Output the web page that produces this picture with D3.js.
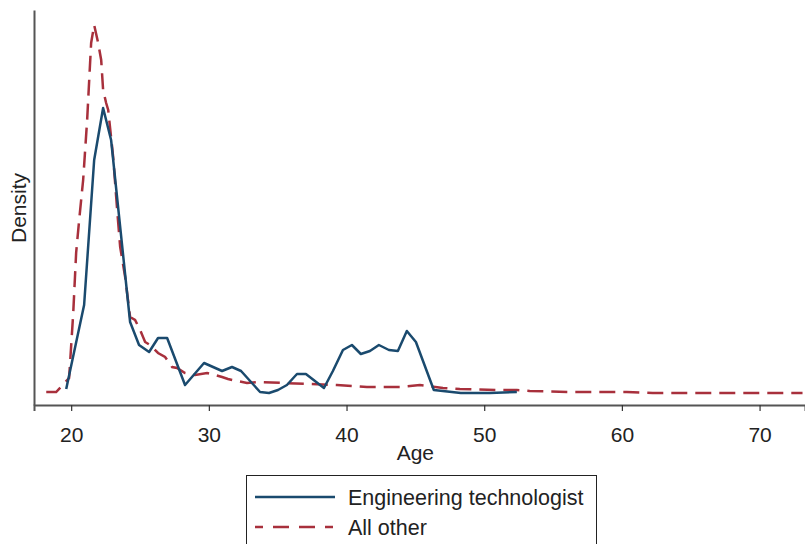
<!DOCTYPE html>
<html>
<head>
<meta charset="utf-8">
<script src="https://cdn.jsdelivr.net/npm/d3@7"></script>
<style>
  body { margin: 0; background: #fff; }
  svg { display: block; font-family: "Liberation Sans", Arial, sans-serif; }
</style>
</head>
<body>
<div id="chart"></div>
<script>
// Engineering technologist: age / density
const engAge = [19.64, 20.94, 21.67, 22.32, 22.90, 24.28, 24.93, 25.66, 26.31, 26.97,
  28.27, 29.65, 30.96, 31.68, 32.34, 33.72, 34.37, 35.02, 35.67, 36.40, 37.05,
  38.36, 39.01, 39.74, 40.39, 41.04, 41.70, 42.35, 43.08, 43.73, 44.38, 45.04,
  46.34, 48.30, 50.41, 52.37];
const engDensity = [0.002, 0.044, 0.1165, 0.1425, 0.1265, 0.0355, 0.024, 0.0205, 0.0275, 0.0275,
  0.004, 0.015, 0.011, 0.013, 0.011, 0.0005, 0, 0.0015, 0.004, 0.0095, 0.0095,
  0.0025, 0.011, 0.0215, 0.024, 0.0195, 0.021, 0.024, 0.0215, 0.021, 0.031, 0.0255,
  0.0015, 0, 0, 0.0005];

// All other: age / density
const othAge = [18.19, 18.91, 19.85, 20.15, 20.36, 20.58, 20.87, 21.16, 21.31, 21.45,
  21.67, 21.96, 22.18, 22.32, 22.54, 22.69, 23.05, 23.34, 23.56, 23.92, 24.28,
  24.64, 25.01, 25.37, 25.73, 26.31, 26.82, 27.33, 27.69, 28.27, 29.00, 29.87,
  30.45, 30.96, 31.39, 32.05, 32.77, 33.72, 35.38, 37.34, 39.30, 41.48, 43.87,
  45.33, 47.00, 48.23, 51.13, 52.37, 53.31, 56.21, 58.90, 60.35, 62.24, 73.12];
const othDensity = [0.0005, 0.0005, 0.0075, 0.04, 0.07, 0.0865, 0.1065, 0.1365, 0.1565, 0.175,
  0.184, 0.175, 0.1665, 0.1515, 0.145, 0.1415, 0.118, 0.0915, 0.073, 0.058, 0.038,
  0.0365, 0.0315, 0.0255, 0.024, 0.02, 0.018, 0.013, 0.0125, 0.01, 0.009, 0.01,
  0.009, 0.008, 0.007, 0.006, 0.005, 0.0055, 0.005, 0.0045, 0.004, 0.003, 0.003,
  0.004, 0.0025, 0.002, 0.0015, 0.0015, 0.001, 0.0005, 0.0005, 0.0005, 0, 0];

const xTicks = [20, 30, 40, 50, 60, 70];
const seriesNames = ['Engineering technologist', 'All other'];
const colors = ['#1a4a6e', '#a8303c'];

const W = 805, H = 544;
const FS = 21;
const svg = d3.select('#chart').append('svg').attr('width', W).attr('height', H);

const x = d3.scaleLinear().domain([17.3, 73.3]).range([34, 805]);
const y = d3.scaleLinear().domain([-0.006, 0.1915]).range([405, 10]);

const line = d3.line().x(d => x(d[0])).y(d => y(d[1]));

const engPts = engAge.map((a, i) => [a, engDensity[i]]);
const othPts = othAge.map((a, i) => [a, othDensity[i]]);

// axes
const xAxis = svg.append('g').attr('transform', 'translate(0,405)')
  .call(d3.axisBottom(x).tickValues(xTicks).tickSize(6).tickPadding(16).tickFormat(d3.format('d')));
xAxis.select('.domain').attr('stroke', '#555').attr('stroke-width', 2);
xAxis.selectAll('.tick line').attr('stroke', '#333').attr('stroke-width', 1.2);
xAxis.selectAll('.tick text').attr('font-size', FS).attr('fill', '#222')
  .attr('font-family', '"Liberation Sans", Arial, sans-serif');

const yAxis = svg.append('g').attr('transform', 'translate(34,0)')
  .call(d3.axisLeft(y).tickValues([]).tickSize(0));
yAxis.select('.domain').attr('stroke', '#555').attr('stroke-width', 2);

svg.append('text').attr('x', x(45)).attr('y', 460).attr('text-anchor', 'middle')
  .attr('font-size', FS).attr('fill', '#222').text('Age');

svg.append('text').attr('transform', 'translate(26,208) rotate(-90)')
  .attr('text-anchor', 'middle').attr('font-size', FS).attr('fill', '#222').text('Density');

// series
svg.append('path').datum(othPts).attr('d', line)
  .attr('fill', 'none').attr('stroke', colors[1]).attr('stroke-width', 2.5)
  .attr('stroke-dasharray', '16,8');
svg.append('path').datum(engPts).attr('d', line)
  .attr('fill', 'none').attr('stroke', colors[0]).attr('stroke-width', 2.5)
  .attr('stroke-linejoin', 'round');

// legend
const lg = svg.append('g');
lg.append('rect').attr('x', 246.5).attr('y', 475.5).attr('width', 350).attr('height', 80)
  .attr('fill', '#fff').attr('stroke', '#222').attr('stroke-width', 1);
seriesNames.forEach((name, i) => {
  const ly = 497 + i * 30;
  lg.append('line').attr('x1', 255).attr('x2', 335).attr('y1', ly).attr('y2', ly)
    .attr('stroke', colors[i]).attr('stroke-width', 2.5)
    .attr('stroke-dasharray', i === 1 ? '8,10,16,10,16,10,8' : null);
  lg.append('text').attr('x', 348).attr('y', ly + 7.5).attr('font-size', 21.5)
    .attr('fill', '#222').text(name);
});
</script>
</body>
</html>
